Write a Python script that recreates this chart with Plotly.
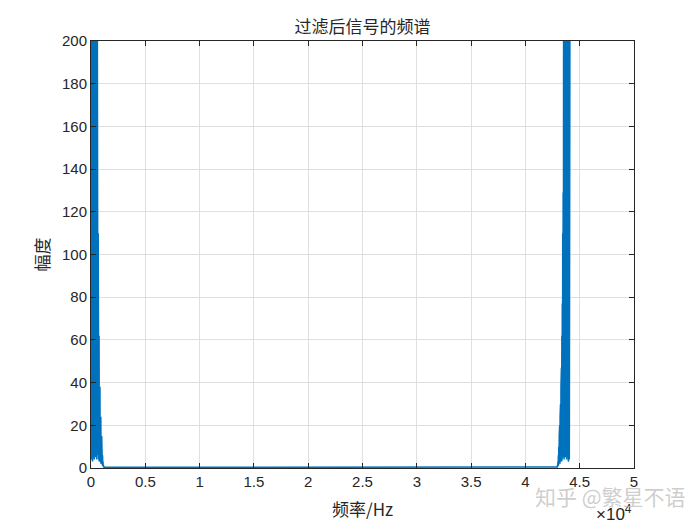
import plotly.graph_objects as go

# ---- data ----
freq_low = [0, 20, 40, 60, 80, 100, 120, 140, 160, 180, 200, 220, 240, 260, 280, 300,
            320, 340, 360, 380, 400, 420, 440, 460, 480, 500, 520, 540, 560, 580, 600,
            620, 640, 660, 680, 700, 720, 740, 760, 780, 800, 820, 840, 860, 880, 900,
            920, 940, 960, 980, 1000, 1020, 1040, 1060, 1080, 1100, 1120, 1140, 1160,
            1180, 1200, 1220, 1240, 1260, 1280]
mag_low = [230, 6, 310, 4, 420, 9, 520, 3, 610, 7, 700, 5, 650, 8, 580, 4, 470, 10,
           390, 6, 330, 5, 280, 9, 240, 7, 215, 4, 12, 205, 8, 129, 6, 110, 5, 77, 4,
           62, 3, 47, 5, 38, 3, 30, 4, 24, 2, 20, 3, 15, 2, 10, 1.5, 6, 1, 3, 0.8,
           1.5, 0.5, 0.6, 0.4, 0.5, 0.3, 0.4, 0.3]

freq_mid = [1300, 10000, 20000, 30000, 42800]
mag_mid = [0.3, 0.3, 0.3, 0.3, 0.3]

freq_high = [42820, 42840, 42860, 42880, 42900, 42920, 42940, 42960, 42980, 43000,
             43020, 43040, 43060, 43080, 43100, 43120, 43140, 43160, 43180, 43200,
             43220, 43240, 43260, 43280, 43300, 43320, 43340, 43360, 43380, 43400,
             43420, 43440, 43460, 43480, 43500, 43520, 43540, 43560, 43580, 43600,
             43620, 43640, 43660, 43680, 43700, 43720, 43740, 43760, 43780, 43800,
             43820, 43840, 43860, 43880, 43900, 43920, 43940, 43960, 43980, 44000,
             44020, 44040, 44060, 44080, 44100]
mag_high = [0.3, 0.4, 0.3, 0.5, 0.4, 0.6, 0.5, 1.5, 0.8, 3, 1, 6, 1.5, 10, 2, 15, 3,
            20, 2, 24, 4, 30, 3, 38, 5, 47, 3, 62, 4, 77, 5, 110, 6, 129, 8, 205, 12,
            4, 215, 7, 240, 9, 280, 5, 330, 6, 390, 10, 470, 4, 580, 8, 650, 5, 700,
            7, 610, 3, 520, 9, 420, 4, 310, 6, 230]

x_tick_vals = [0, 5000, 10000, 15000, 20000, 25000, 30000, 35000, 40000, 45000, 50000]
x_tick_text = ["0", "0.5", "1", "1.5", "2", "2.5", "3", "3.5", "4", "4.5", "5"]
y_tick_vals = [0, 20, 40, 60, 80, 100, 120, 140, 160, 180, 200]

freq = freq_low + freq_mid + freq_high
mag = mag_low + mag_mid + mag_high

fig = go.Figure()
fig.add_trace(go.Scatter(x=freq, y=mag, mode="lines",
                         line=dict(color="#0072BD", width=1.6),
                         showlegend=False, hoverinfo="skip"))

axis_common = dict(
    showline=True, linecolor="#262626", linewidth=1, mirror="ticks",
    ticks="inside", ticklen=5, tickcolor="#262626",
    showgrid=True, gridcolor="#dfdfdf", gridwidth=1,
    zeroline=False,
    tickfont=dict(family="Liberation Sans, Arial, sans-serif", size=15, color="#262626"),
)

fig.update_xaxes(range=[0, 50000], tickmode="array", tickvals=x_tick_vals,
                 ticktext=x_tick_text, **axis_common)
fig.update_yaxes(range=[0, 200], tickmode="array", tickvals=y_tick_vals, **axis_common)

# page offset of ~7px compensated in margins
L, T = 83, 33
PW, PH = 543, 427
cjk = "Noto Sans CJK SC, sans-serif"
fig.update_layout(
    width=700, height=525,
    margin=dict(l=L, r=700 - L - PW, t=T, b=525 - T - PH),
    paper_bgcolor="white", plot_bgcolor="white",
    title=dict(text="过滤后信号的频谱", x=(L + PW / 2) / 700, xanchor="center",
               y=1 - 19 / 525, yanchor="middle",
               font=dict(family=cjk, size=17, color="#262626")),
    annotations=[
        dict(text="频率/Hz", xref="paper", yref="paper", x=0.5, y=-(508 - 467) / 427,
             xanchor="center", yanchor="middle", showarrow=False,
             font=dict(family=cjk, size=17, color="#262626")),
        dict(text="幅度", xref="paper", yref="paper", x=(40 - 90) / 543, y=0.5,
             xanchor="center", yanchor="middle", textangle=-90, showarrow=False,
             font=dict(family=cjk, size=17, color="#262626")),
        dict(text="×10<sup>4</sup>", xref="paper", yref="paper",
             x=(613 - 90) / 543, y=-(512 - 467) / 427,
             xanchor="center", yanchor="middle", showarrow=False,
             font=dict(family="Liberation Sans, Arial, sans-serif", size=17, color="#262626")),
        dict(text="知乎 @繁星不语", xref="paper", yref="paper",
             x=(609 - 90) / 543, y=-(495 - 467) / 427,
             xanchor="center", yanchor="middle", showarrow=False,
             font=dict(family=cjk, size=21, color="rgba(190,190,190,0.75)")),
    ],
)

fig.write_html("out.html")
